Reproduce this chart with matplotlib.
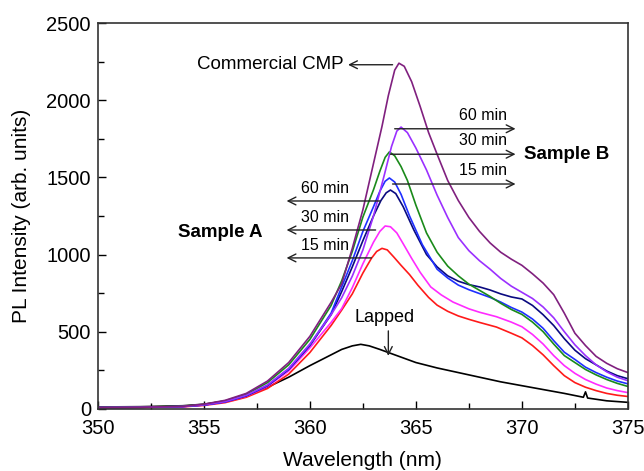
import matplotlib.pyplot as plt
from matplotlib.ticker import MultipleLocator

plt.rcParams['font.family'] = ['Liberation Sans', 'DejaVu Sans']

# PL spectra (wavelength in nm, intensity in arb. units)
cmp_wl = [350, 352, 354, 355, 356, 357, 358, 359, 360, 361, 361.5, 362, 362.5, 363, 363.4,
          363.7, 364.0, 364.2, 364.45, 364.8, 365.2, 365.6, 366, 366.5, 367, 367.5, 368, 368.5,
          369, 369.5, 370, 370.5, 371, 371.5, 372, 372.5, 373, 373.5, 374, 374.5, 375]
cmp_int = [8, 10, 16, 30, 55, 100, 180, 300, 470, 690, 810, 1040, 1290, 1590, 1830,
           2030, 2195, 2240, 2220, 2120, 1960, 1790, 1650, 1480, 1350, 1240, 1150, 1075,
           1015, 970, 930, 875, 815, 740, 620, 490, 410, 340, 295, 260, 235]

b60_wl = [350, 352, 354, 355, 356, 357, 358, 359, 360, 361, 361.5, 362, 362.5, 363, 363.5,
          363.85, 364.1, 364.3, 364.6, 365, 365.5, 366, 366.5, 367, 367.5, 368, 368.5, 369, 369.5,
          370, 370.5, 371, 371.5, 372, 372.5, 373, 373.5, 374, 374.5, 375]
b60_int = [8, 10, 15, 26, 47, 88, 155, 262, 420, 610, 720, 860, 1030, 1250, 1510,
           1700, 1800, 1826, 1790, 1690, 1548, 1385, 1240, 1110, 1025, 960, 905, 845, 795,
           755, 715, 660, 590, 500, 415, 345, 285, 240, 205, 182]

b30_wl = [350, 352, 354, 355, 356, 357, 358, 359, 360, 361, 361.5, 362, 362.5, 363, 363.3,
          363.55, 363.75, 364.0, 364.3, 364.6, 365, 365.5, 366, 366.5, 367, 367.5, 368, 368.5,
          369, 369.5, 370, 370.5, 371, 371.5, 372, 372.5, 373, 373.5, 374, 374.5, 375]
b30_int = [9, 11, 17, 28, 52, 95, 170, 285, 450, 670, 830, 1020, 1243, 1420, 1540,
           1630, 1665, 1640, 1570, 1480, 1320, 1140, 1015, 925, 862, 808, 768, 728,
           684, 644, 612, 562, 500, 420, 345, 300, 255, 220, 190, 165, 145]

b15_wl = [350, 352, 354, 355, 356, 357, 358, 359, 360, 361, 361.5, 362, 362.5, 363, 363.3,
          363.55, 363.75, 364.0, 364.3, 364.7, 365.3, 366, 366.5, 367, 367.5, 368, 368.5, 369,
          369.5, 370, 370.5, 371, 371.5, 372, 372.5, 373, 373.5, 374, 374.5, 375]
b15_int = [8, 10, 15, 25, 46, 86, 152, 258, 415, 620, 790, 960, 1150, 1310, 1410,
           1475, 1496, 1470, 1390, 1250, 1065, 905, 848, 802, 772, 747, 722, 692,
           657, 627, 582, 522, 442, 367, 320, 270, 235, 205, 180, 162]

a60_wl = [350, 352, 354, 355, 356, 357, 358, 359, 360, 361, 361.5, 362, 362.5, 363, 363.35,
          363.6, 363.8, 364.05, 364.4, 364.9, 365.5, 366, 366.5, 367, 367.5, 368, 368.5, 369,
          369.5, 370, 370.5, 371, 371.5, 372, 372.5, 373, 373.5, 374, 374.5, 375]
a60_int = [8, 10, 15, 25, 45, 84, 150, 255, 410, 610, 760, 920, 1090, 1250, 1350,
           1400, 1418, 1395, 1310, 1160, 1000, 920, 862, 827, 805, 790, 770, 745,
           725, 712, 670, 610, 540, 455, 380, 325, 285, 245, 215, 195]

a30_wl = [350, 352, 354, 355, 356, 357, 358, 359, 360, 361, 361.5, 362, 362.5, 363, 363.3,
          363.55, 363.8, 364.1, 364.4, 364.8, 365.2, 365.7, 366.2, 366.75, 367.5, 368, 368.8,
          369.5, 370, 370.5, 371, 371.5, 372, 372.5, 373, 373.5, 374, 374.5, 375]
a30_int = [8, 10, 14, 24, 44, 82, 145, 245, 395, 560, 650, 785, 940, 1080, 1150,
           1185, 1180, 1140, 1070, 975, 885, 790, 738, 692, 648, 626, 597,
           562, 532, 482, 420, 345, 280, 230, 190, 160, 135, 118, 105]

a15_wl = [350, 352, 354, 355, 356, 357, 358, 359, 360, 361, 361.5, 362, 362.5, 362.9, 363.15,
          363.4, 363.65, 363.95, 364.3, 364.7, 365.1, 365.6, 366, 366.5, 367, 367.5, 368, 368.8,
          369.5, 370, 370.5, 371, 371.5, 372, 372.5, 373, 373.5, 374, 374.5, 375]
a15_int = [7, 9, 13, 22, 40, 75, 132, 225, 365, 540, 640, 745, 880, 975, 1020,
           1040, 1030, 985, 930, 870, 800, 722, 672, 632, 602, 580, 560, 530,
           490, 460, 410, 350, 280, 215, 170, 140, 118, 100, 88, 80]

lap_wl = [350, 352, 354, 355, 356, 357, 358, 359, 360, 361, 361.5, 362, 362.4, 362.8, 363.3,
          363.8, 364.5, 365, 366, 367, 368, 369, 370, 371, 372, 372.9, 373.0, 373.1, 374, 375]
lap_int = [12, 14, 20, 30, 50, 85, 140, 205, 280, 350, 385, 408, 418, 408, 385,
           360, 325, 300, 265, 235, 205, 175, 150, 125, 100, 75, 110, 70, 52, 42]

series = [
    (lap_wl, lap_int, '#000000'),
    (a15_wl, a15_int, '#ff1a1a'),
    (a30_wl, a30_int, '#ff2bff'),
    (a60_wl, a60_int, '#0a0a80'),
    (b15_wl, b15_int, '#1f2fff'),
    (b30_wl, b30_int, '#1a8a1a'),
    (b60_wl, b60_int, '#9b30ff'),
    (cmp_wl, cmp_int, '#80207f'),
]

fig = plt.figure(figsize=(6.44, 4.71), dpi=100)
ax = fig.add_axes([0.152, 0.132, 0.823, 0.819])

for wl, inten, col in series:
    ax.plot(wl, inten, color=col, lw=1.2)

ax.set_xlim(350, 375)
ax.set_ylim(0, 2500)
ax.xaxis.set_major_locator(MultipleLocator(5))
ax.xaxis.set_minor_locator(MultipleLocator(2.5))
ax.yaxis.set_major_locator(MultipleLocator(500))
ax.yaxis.set_minor_locator(MultipleLocator(250))
ax.tick_params(which='both', direction='in', labelsize=14.5, width=1)
ax.tick_params(axis='y', pad=5)
ax.tick_params(axis='x', pad=7)
ax.tick_params(which='major', length=6)
ax.tick_params(which='minor', length=4)
for sp in ax.spines.values():
    sp.set_linewidth(1.2)
    sp.set_color('#333333')

ax.set_xlabel('Wavelength (nm)', fontsize=15, labelpad=10)
ax.set_ylabel('PL Intensity (arb. units)', fontsize=15, labelpad=11)

arrow = dict(arrowstyle='->', lw=1.0, color='#222222', shrinkA=0, shrinkB=0, mutation_scale=14)

# Commercial CMP
ax.annotate('', xy=(361.8, 2230), xytext=(363.9, 2230), arrowprops=arrow)
ax.text(361.6, 2230, 'Commercial CMP', fontsize=13.5, ha='right', va='center')

# Sample B arrows (point right)
for y, lbl, x0 in [(1815, '60 min', 364.0), (1650, '30 min', 363.8), (1457, '15 min', 363.9)]:
    ax.annotate('', xy=(369.7, y), xytext=(x0, y), arrowprops=arrow)
    ax.text(369.3, y + 40, lbl, fontsize=11.5, ha='right', va='bottom')
ax.text(370.1, 1650, 'Sample B', fontsize=13.5, fontweight='bold', ha='left', va='center')

# Sample A arrows (point left)
for y, lbl, x0 in [(1347, '60 min', 363.3), (1159, '30 min', 363.1), (978, '15 min', 362.9)]:
    ax.annotate('', xy=(358.9, y), xytext=(x0, y), arrowprops=arrow)
    ax.text(359.6, y + 35, lbl, fontsize=11.5, ha='left', va='bottom')
ax.text(353.8, 1140, 'Sample A', fontsize=13.5, fontweight='bold', ha='left', va='center')

# Lapped
ax.annotate('', xy=(363.7, 343), xytext=(363.7, 505), arrowprops=arrow)
ax.text(363.5, 540, 'Lapped', fontsize=13, ha='center', va='bottom')

fig.savefig('out.png', dpi=100)
